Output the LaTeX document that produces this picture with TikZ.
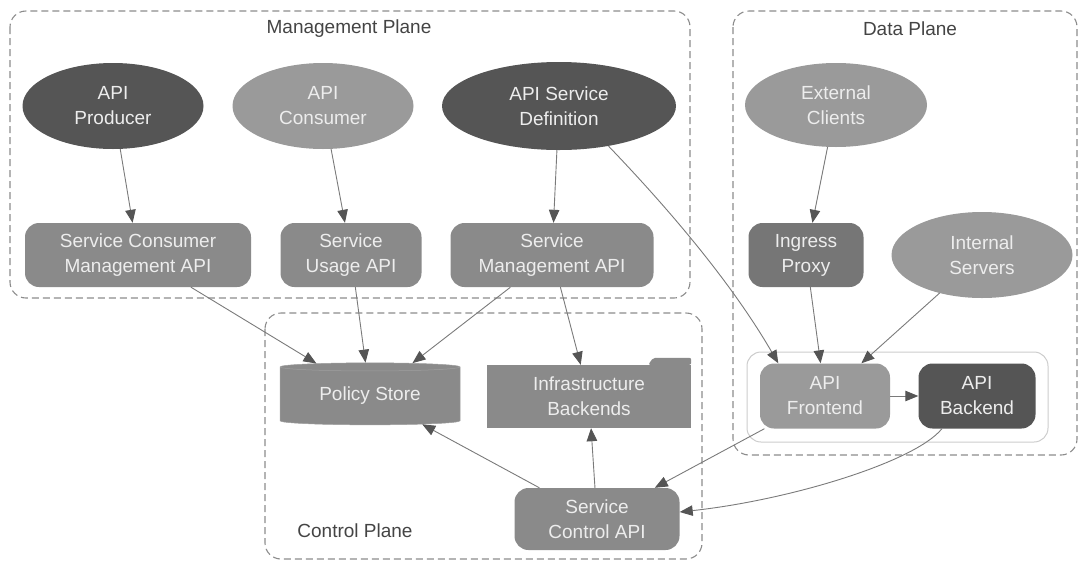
\documentclass[tikz,border=0pt]{standalone}
\usepackage{fontspec}
\setmainfont{Liberation Sans}
\usetikzlibrary{shapes.geometric,arrows.meta}
\definecolor{darkfill}{HTML}{555555}
\definecolor{midfill}{HTML}{8A8A8A}
\definecolor{lightfill}{HTML}{9A9A9A}
\definecolor{proxyfill}{HTML}{767676}
\definecolor{edgegray}{HTML}{7A7A7A}
\definecolor{planegray}{HTML}{8C8C8C}
\definecolor{titlegray}{HTML}{444444}

\begin{document}
\begin{tikzpicture}[x=1pt,y=-1pt,
    font=\fontsize{19}{25}\selectfont,
    actor/.style={ellipse, inner sep=0pt, text=white!93!black, align=center},
    api/.style={rectangle, rounded corners=14pt, inner sep=0pt, minimum height=64pt,
        text=white!93!black, align=center, fill=midfill},
    plane/.style={draw=planegray, dash pattern=on 7pt off 4pt, line width=1.1pt, rounded corners=16pt},
    title/.style={text=titlegray, inner sep=0pt},
    link/.style={draw=edgegray, line width=0.9pt, -{Triangle[length=13pt,width=10.5pt,color=darkfill]}}
]
\useasboundingbox (0,0) rectangle (1079,563);

% planes
\draw[plane] (10,11) rectangle (690,298);
\draw[plane] (733,11) rectangle (1077,455);
\draw[plane] (265,313) rectangle (702,559);
\draw[draw=black!20, line width=1pt, rounded corners=14pt] (747,352) rectangle (1048,442);

\node[title] (mgmttitle) at (349,29) {Management Plane};
\node[title] (datatitle) at (910,29) {Data Plane};
\node[title] (ctrltitle) at (355,531) {Control Plane};

% management plane
\node[actor, fill=darkfill, minimum width=181pt, minimum height=86pt] (prod) at (113,106) {API\\Producer};
\node[actor, fill=lightfill, minimum width=181pt, minimum height=86pt] (cons) at (323,106) {API\\Consumer};
\node[actor, fill=darkfill, minimum width=234pt, minimum height=88pt] (def) at (559,106) {API Service\\Definition};

\node[api, minimum width=226pt] (scm) at (138,255) {Service Consumer\\Management API};
\node[api, minimum width=141pt] (usage) at (351,255) {Service\\Usage API};
\node[api, minimum width=203pt] (sm) at (552,255) {Service\\Management API};

% data plane
\node[actor, fill=lightfill, minimum width=182pt, minimum height=84pt] (ext) at (836,105) {External\\Clients};
\node[actor, fill=lightfill, minimum width=181pt, minimum height=86pt] (int) at (982,255) {Internal\\Servers};
\node[api, fill=proxyfill, minimum width=115pt] (ingress) at (806,255) {Ingress\\Proxy};
\node[api, fill=lightfill, minimum width=130pt, minimum height=65pt] (front) at (825,396) {API\\Frontend};
\node[api, fill=darkfill, minimum width=117pt, minimum height=65pt] (back) at (977,396) {API\\Backend};

% control plane
\node[cylinder, shape border rotate=90, aspect=0.08, fill=midfill, draw=black!38, line width=0.5pt, inner sep=0pt,
    minimum width=180pt, minimum height=62pt, text=white!93!black] (store) at (370,396) {Policy Store};
\node[rectangle, fill=midfill, inner sep=0pt, minimum width=204pt, minimum height=63pt,
    text=white!93!black, align=center] (infra) at (589,396.5) {Infrastructure\\Backends};
\fill[midfill, rounded corners=2pt] ([xshift=-43pt]infra.north east) -- ++(5,-7) -- ([yshift=7pt]infra.north east) -- (infra.north east) -- cycle;
\node[api, minimum width=165pt, minimum height=62pt] (ctrl) at (597,519) {Service\\Control API};

\draw[link] (prod) -- (scm);
\draw[link] (cons) -- (usage);
\draw[link] (def) -- (sm);
\draw[link] (def.-39) .. controls (665,205) and (730,280) .. (front.145);
\draw[link] (ext) -- (ingress);
\draw[link] (ingress) -- (front);
\draw[link] (int) -- (front);
\draw[link] (front) -- (back);
\draw[link] (scm) -- (store);
\draw[link] (usage) -- (store);
\draw[link] (sm) -- (store);
\draw[link] (sm) -- (infra);
\draw[link] (ctrl) -- (store);
\draw[link] (ctrl) -- (infra);
\draw[link] (front) -- (ctrl);
\draw[link] (back.-137) .. controls (915,462) and (790,500) .. ([yshift=7pt]ctrl.east);
\end{tikzpicture}
\end{document}
